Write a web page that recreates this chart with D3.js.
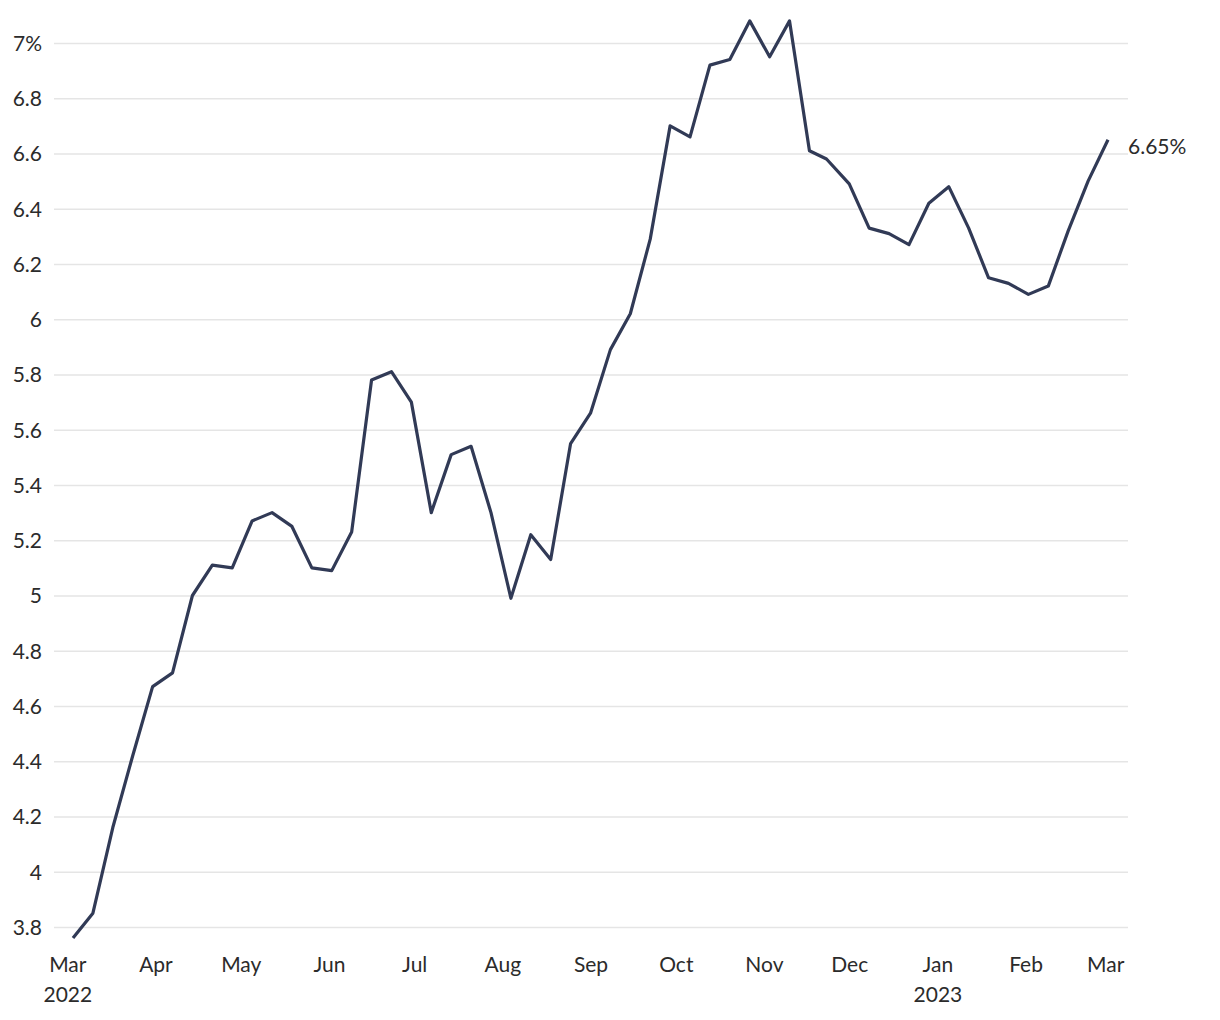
<!DOCTYPE html>
<html>
<head>
<meta charset="utf-8">
<script src="https://cdn.jsdelivr.net/npm/d3@7"></script>
<style>
  html, body { margin: 0; padding: 0; background: #fff; }
  svg { display: block; font-family: "Lato", "Noto Sans", sans-serif; }
</style>
</head>
<body>
<svg id="chart" width="1220" height="1020"></svg>
<script>
const dates = [
  "2022-03-03","2022-03-10","2022-03-17","2022-03-24","2022-03-31",
  "2022-04-07","2022-04-14","2022-04-21","2022-04-28",
  "2022-05-05","2022-05-12","2022-05-19","2022-05-26",
  "2022-06-02","2022-06-09","2022-06-16","2022-06-23","2022-06-30",
  "2022-07-07","2022-07-14","2022-07-21","2022-07-28",
  "2022-08-04","2022-08-11","2022-08-18","2022-08-25",
  "2022-09-01","2022-09-08","2022-09-15","2022-09-22","2022-09-29",
  "2022-10-06","2022-10-13","2022-10-20","2022-10-27",
  "2022-11-03","2022-11-10","2022-11-17","2022-11-23",
  "2022-12-01","2022-12-08","2022-12-15","2022-12-22","2022-12-29",
  "2023-01-05","2023-01-12","2023-01-19","2023-01-26",
  "2023-02-02","2023-02-09","2023-02-16","2023-02-23",
  "2023-03-02"
];
const rates = [
  3.76, 3.85, 4.16, 4.42, 4.67,
  4.72, 5.00, 5.11, 5.10,
  5.27, 5.30, 5.25, 5.10,
  5.09, 5.23, 5.78, 5.81, 5.70,
  5.30, 5.51, 5.54, 5.30,
  4.99, 5.22, 5.13, 5.55,
  5.66, 5.89, 6.02, 6.29, 6.70,
  6.66, 6.92, 6.94, 7.08,
  6.95, 7.08, 6.61, 6.58,
  6.49, 6.33, 6.31, 6.27, 6.42,
  6.48, 6.33, 6.15, 6.13,
  6.09, 6.12, 6.32, 6.50,
  6.65
];
const yTicks = [3.8, 4, 4.2, 4.4, 4.6, 4.8, 5, 5.2, 5.4, 5.6, 5.8, 6, 6.2, 6.4, 6.6, 6.8, 7];
const xTickMonths = ["2022-03-01","2022-04-01","2022-05-01","2022-06-01","2022-07-01","2022-08-01",
  "2022-09-01","2022-10-01","2022-11-01","2022-12-01","2023-01-01","2023-02-01","2023-03-01"];
const yearLabelMonths = ["2022-03-01", "2023-01-01"];

const parse = d3.utcParse("%Y-%m-%d");
const data = dates.map((d, i) => ({ date: parse(d), value: rates[i] }));
const tickDates = xTickMonths.map(parse);
const yearSet = new Set(yearLabelMonths);

const svg = d3.select("#chart");
const textColor = "#2b2b2b";
const lineColor = "#313a56";
const fontFamily = '"Lato", "Noto Sans", sans-serif';
const fontSize = 21;

const x = d3.scaleUtc().domain(d3.extent(data, d => d.date)).range([73, 1108]);
const y = d3.scaleLinear().domain([3.8, 7]).range([927, 43]);

const gridLeft = 54, gridRight = 1128;

// gridlines + y labels
const yAxis = d3.axisLeft(y)
  .tickValues(yTicks)
  .tickSize(-(gridRight - gridLeft))
  .tickPadding(12)
  .tickFormat(v => {
    const s = Number.isInteger(v) ? String(v) : d3.format(".1f")(v);
    return v === 7 ? s + "%" : s;
  });

const gy = svg.append("g")
  .attr("transform", `translate(${gridLeft},0)`)
  .call(yAxis)
  .attr("font-family", fontFamily)
  .attr("font-size", fontSize);
gy.select(".domain").remove();
gy.selectAll(".tick line").attr("stroke", "#e5e5e5").attr("stroke-width", 1.5);
gy.selectAll(".tick text")
  .attr("fill", textColor)
  .attr("dy", "0.35em");

// x axis
const xAxis = d3.axisBottom(x)
  .tickValues(tickDates)
  .tickSize(0)
  .tickPadding(0)
  .tickFormat(d3.utcFormat("%b"));

const gx = svg.append("g")
  .attr("transform", `translate(0,957)`)
  .call(xAxis)
  .attr("font-family", fontFamily)
  .attr("font-size", fontSize);
gx.select(".domain").remove();
gx.selectAll(".tick text")
  .attr("fill", textColor)
  .attr("dy", "0.71em");

gx.selectAll(".tick")
  .filter(d => yearSet.has(d3.utcFormat("%Y-%m-%d")(d)))
  .append("text")
  .attr("fill", textColor)
  .attr("y", 30)
  .attr("dy", "0.71em")
  .attr("text-anchor", "middle")
  .text(d => d3.utcFormat("%Y")(d));

// line
const line = d3.line().x(d => x(d.date)).y(d => y(d.value));
svg.append("path")
  .datum(data)
  .attr("fill", "none")
  .attr("stroke", lineColor)
  .attr("stroke-width", 3.2)
  .attr("stroke-linejoin", "round")
  .attr("d", line);

// end label
const last = data[data.length - 1];
svg.append("text")
  .attr("x", x(last.date) + 20)
  .attr("y", y(last.value) + 7)
  .attr("dy", "0.35em")
  .attr("fill", textColor)
  .attr("font-family", fontFamily)
  .attr("font-size", fontSize)
  .text(d3.format(".2f")(last.value) + "%");
</script>
</body>
</html>
